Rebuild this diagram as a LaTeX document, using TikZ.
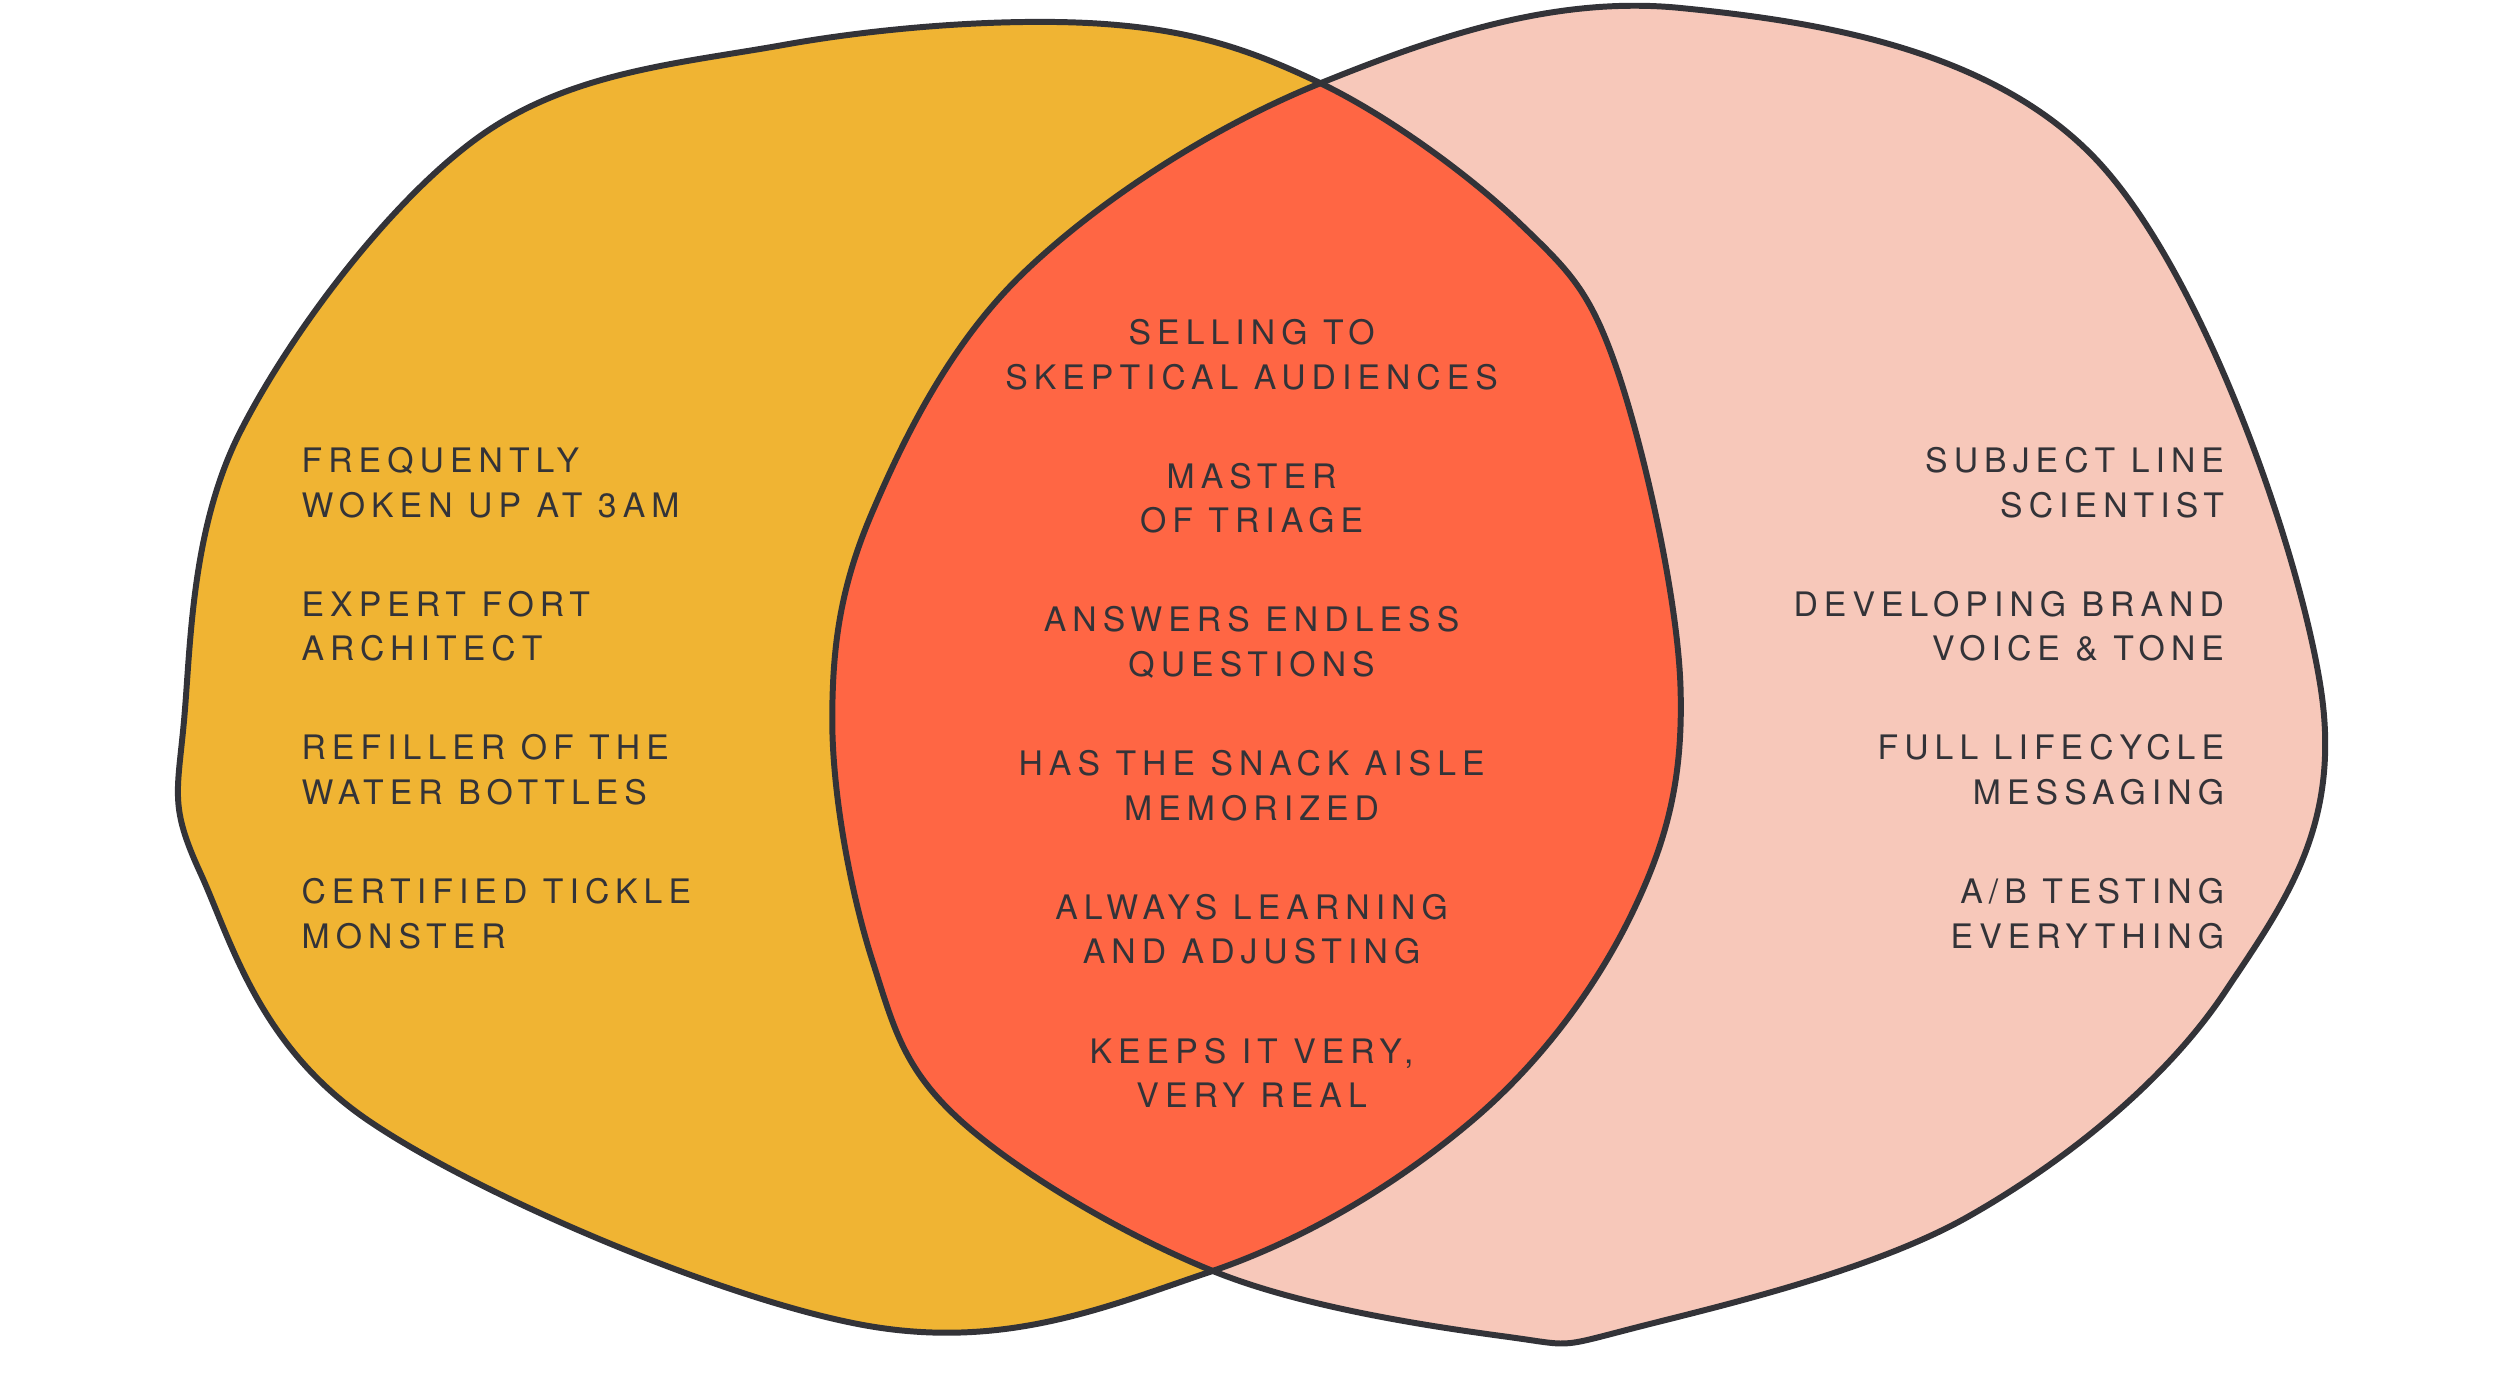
\documentclass[tikz,border=0pt]{standalone}
\usepackage{fontspec}
\setmainfont{TeX Gyre Heros}[LetterSpace=18]
\usetikzlibrary{positioning}
\definecolor{mustard}{HTML}{F0B433}
\definecolor{blush}{HTML}{F7C8BA}
\definecolor{coral}{HTML}{FF6644}
\definecolor{ink}{HTML}{333338}
\tikzset{
  outline/.style={draw=ink, line width=1.7pt},
  label/.style={text=ink, font=\fontsize{9.6}{12.7}\selectfont, inner sep=0pt},
}
\begin{document}
\begin{tikzpicture}[x=0.016cm, y=-0.016cm]
      \useasboundingbox (0,0) rectangle (1562,866);

      \def\leftblob{plot[smooth cycle, tension=0.6] coordinates {(825,52) (690,15) (490,28) (300,85) (150,270) (115,450) (125,545) (230,700) (540,828) (755,795) (920,700) (1020,570) (1050,430) (1010,230) (950,140)}}
      \def\rightblob{plot[smooth cycle, tension=0.6] coordinates {(825,52) (1050,5) (1310,100) (1450,430) (1390,620) (1230,760) (1020,830) (940,835) (760,795) (600,700) (545,600) (520,450) (545,320) (640,170)}}

      \fill[mustard] \leftblob;
      \fill[blush] \rightblob;
      \begin{scope}
        \clip \leftblob;
        \fill[coral] \rightblob;
      \end{scope}
      \draw[outline] \leftblob;
      \draw[outline] \rightblob;

      % left set
      \node[label, anchor=north west, align=left] (mom) at (188,279)
        {FREQUENTLY\\WOKEN UP AT 3AM\\[15.5pt]EXPERT FORT\\ARCHITECT\\[15.5pt]REFILLER OF THE\\WATER BOTTLES\\[15.5pt]CERTIFIED TICKLE\\MONSTER};

      % overlap
      \node[label, anchor=north, align=center] (both) at (782,199)
        {SELLING TO\\SKEPTICAL AUDIENCES\\[15.5pt]MASTER\\OF TRIAGE\\[15.5pt]ANSWERS ENDLESS\\QUESTIONS\\[15.5pt]HAS THE SNACK AISLE\\MEMORIZED\\[15.5pt]ALWAYS LEARNING\\AND ADJUSTING\\[15.5pt]KEEPS IT VERY,\\VERY REAL};

      % right set
      \node[label, anchor=north east, align=right] (marketer) at (1390,279)
        {SUBJECT LINE\\SCIENTIST\\[15.5pt]DEVELOPING BRAND\\VOICE \& TONE\\[15.5pt]FULL LIFECYCLE\\MESSAGING\\[15.5pt]A/B TESTING\\EVERYTHING};
\end{tikzpicture}
\end{document}
